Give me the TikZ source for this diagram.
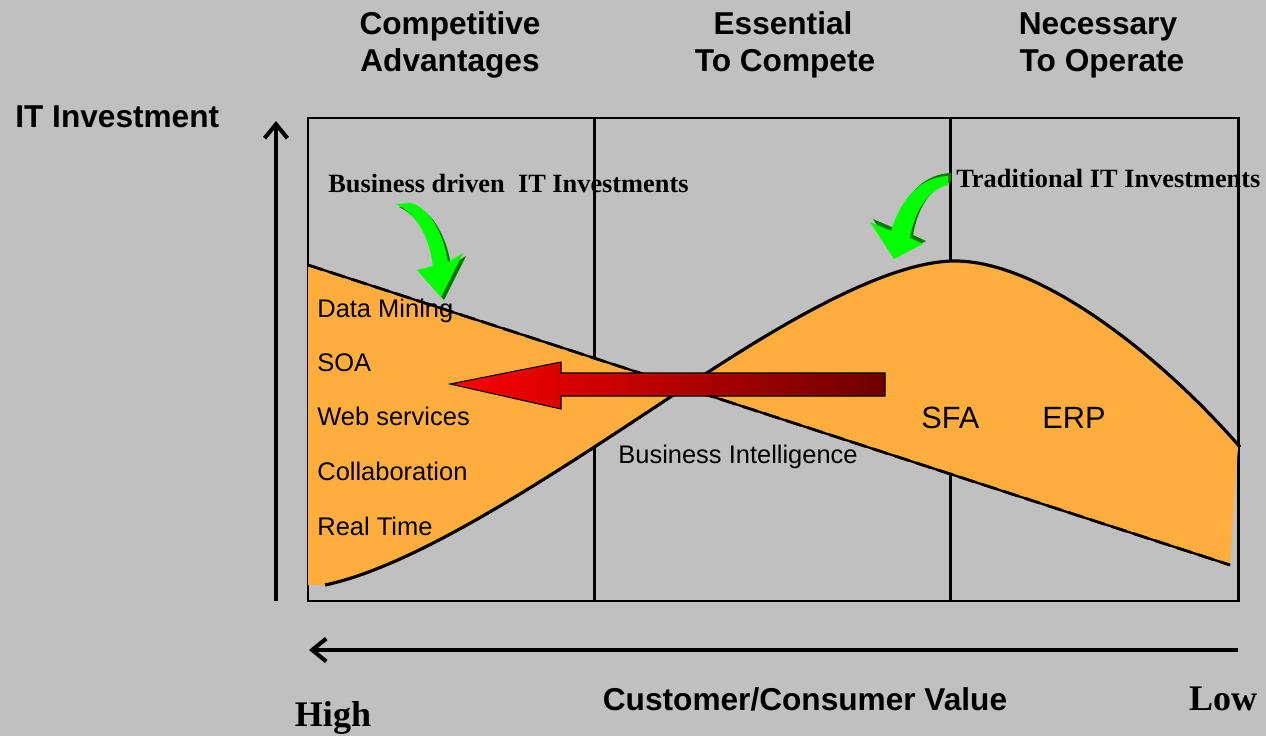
\documentclass[tikz,border=0pt]{standalone}
\usepackage{fontspec}
\setmainfont{Liberation Serif}
\setsansfont{Liberation Sans}
\usetikzlibrary{arrows.meta}
\definecolor{bg}{RGB}{192,192,192}
\definecolor{fillorange}{RGB}{255,174,62}
\definecolor{arrowgreen}{RGB}{0,255,0}
\definecolor{shadegreen}{RGB}{0,125,0}
\definecolor{darkred}{RGB}{110,0,0}
\begin{document}
\begin{tikzpicture}[x=0.02cm,y=-0.02cm,
  hdr/.style={font=\sffamily\bfseries\fontsize{18}{21}\selectfont, inner sep=0, anchor=base},
  lbl/.style={font=\sffamily\fontsize{14.5}{17}\selectfont, inner sep=0, anchor=base west},
  biglbl/.style={font=\sffamily\fontsize{17.5}{20}\selectfont, inner sep=0, anchor=base west},
  ann/.style={font=\bfseries\fontsize{15}{18}\selectfont, inner sep=0, anchor=base west},
  hilo/.style={font=\bfseries\fontsize{20.5}{24}\selectfont, inner sep=0, anchor=base},
  axisarrow/.style={line width=2.3pt, -{Straight Barb[length=8pt,width=13pt]}},
  boxline/.style={line width=1.7pt},
  curveline/.style={line width=1.8pt, line join=round},
  greenshadow/.style={fill=shadegreen},
  greenbody/.style={fill=arrowgreen}
]
\useasboundingbox (0,0) rectangle (1266,736);
\fill[bg] (0,0) rectangle (1266,736);

% headers
\node[hdr] (h1a) at (450,35) {Competitive};
\node[hdr] (h1b) at (450,72) {Advantages};
\node[hdr] (h2a) at (783,35) {Essential};
\node[hdr] (h2b) at (785,72) {To Compete};
\node[hdr] (h3a) at (1098,35) {Necessary};
\node[hdr] (h3b) at (1102,72) {To Operate};
\node[hdr, anchor=base west] (yl) at (15,128) {IT Investment};
\node[hdr] (xl) at (805,710) {Customer/Consumer Value};
\node[hilo] (hi) at (333,726) {High};
\node[hilo] (lo) at (1223,710) {Low};

% box and dividers
\coordinate (b1) at (308,118);
\coordinate (b2) at (1238,601);
\draw[boxline] (b1) rectangle (b2);
\coordinate (d1t) at (594,118); \coordinate (d1b) at (594,601);
\coordinate (d2t) at (950,118); \coordinate (d2b) at (950,601);
\draw[boxline] (d1t) -- (d1b);
\draw[boxline] (d2t) -- (d2b);

% axes
\coordinate (ya) at (276,601);
\coordinate (yb) at (276,121);
\draw[axisarrow] (ya) -- (yb);
\coordinate (xa) at (1238,650);
\coordinate (xb) at (309,650);
\draw[axisarrow] (xa) -- (xb);

% orange regions
\fill[fillorange] (308,265) -- (1230,565) -- (1238,447)
  .. controls (1160,355) and (1040,261) .. (955,261)
  .. controls (880,261) and (760,338) .. (690,384)
  .. controls (560,470) and (420,565) .. (325,585)
  -- (308,585) -- cycle;

% declining line
\coordinate (l1) at (308,265);
\coordinate (l2) at (1230,565);
\draw[line width=1.3pt] (l1) -- (l2);
\draw[line width=1.6pt, dash pattern=on 9pt off 4pt, shift={(0,3)}] (l1) -- (l2);

% S curve
\coordinate (s0) at (325,585);
\coordinate (s1) at (690,384);
\coordinate (s2) at (955,261);
\coordinate (s3) at (1240,447);
\draw[curveline] (s0) .. controls (420,565) and (560,470) .. (s1)
  .. controls (760,338) and (880,261) .. (s2)
  .. controls (1040,261) and (1160,355) .. (s3);

% red arrow
\draw[line width=0.6pt, left color=red, right color=darkred]
  (450,384) -- (561,362) -- (561,373) -- (885,373) -- (885,396) -- (561,396) -- (561,409) -- cycle;

% green arrow 1
\begin{scope}[shift={(3,3)}]
\fill[greenshadow] (396,204) .. controls (418,214) and (430,240) .. (433,266) -- (417,270) -- (441,297) -- (463,253) -- (448,262) .. controls (443,232) and (429,208) .. (411,203) -- cycle;
\end{scope}
\fill[greenbody] (396,204) .. controls (418,214) and (430,240) .. (433,266) -- (417,270) -- (441,297) -- (463,253) -- (448,262) .. controls (443,232) and (429,208) .. (411,203) -- cycle;

% green arrow 2
\begin{scope}[shift={(3,-3)}]
\fill[greenshadow] (948,176) .. controls (922,177) and (902,196) .. (891,231) -- (870,222) -- (894,259) -- (923,244) -- (910,238) .. controls (915,208) and (930,189) .. (948,185) -- cycle;
\end{scope}
\fill[greenbody] (948,176) .. controls (922,177) and (902,196) .. (891,231) -- (870,222) -- (894,259) -- (923,244) -- (910,238) .. controls (915,208) and (930,189) .. (948,185) -- cycle;

% labels
\node[lbl] (dm) at (317,317) {Data Mining};
\node[lbl] (soa) at (317,371) {SOA};
\node[lbl] (ws) at (317,425) {Web services};
\node[lbl] (co) at (317,480) {Collaboration};
\node[lbl] (rt) at (317,535) {Real Time};
\node[lbl] (bi) at (618,463) {Business Intelligence};
\node[biglbl] (sfa) at (921,428) {SFA};
\node[biglbl] (erp) at (1042,428) {ERP};
\node[ann] (bd) at (328,193) {Business driven\ \ IT Investments};
\node[ann] (tr) at (956,188) {Traditional IT Investments};
\end{tikzpicture}
\end{document}
